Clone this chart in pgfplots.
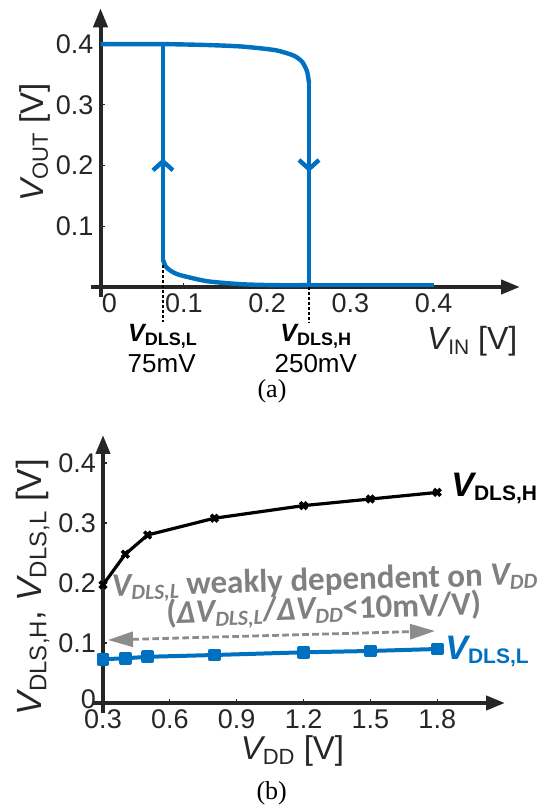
\documentclass[border=0pt]{standalone}
\usepackage{fontspec}
\setmainfont{Liberation Sans}
\newfontfamily\calfont{Carlito}
\newfontfamily\seriffont{Liberation Serif}
\usepackage{pgfplots}
\pgfplotsset{compat=1.18}
\usetikzlibrary{arrows.meta,decorations.markings}

\definecolor{vblue}{RGB}{0,112,192}
\definecolor{vgray}{RGB}{128,128,128}
\definecolor{agray}{RGB}{140,140,140}
\definecolor{axc}{RGB}{38,38,38}

\newcommand{\fs}[1]{\fontsize{#1}{#1}\selectfont}
% italic V with upright subscript
\newcommand{\Vr}[3]{{\fs{#1}\itshape V}\raisebox{-2.4pt}{\fs{#2}#3}}
% bold italic V with bold subscript
\newcommand{\Vb}[3]{{\fs{#1}\bfseries\itshape V}\raisebox{-1.8pt}{\fs{#2}\bfseries #3}}
% gray annotation V (italic subscript)
\newcommand{\Vg}[1]{{\itshape V\raisebox{-2pt}{\fs{10.8}#1}}}

\pgfplotsset{
  vaxis/.style={
    axis lines=left, scale only axis, clip=false,
    axis line style={line width=2pt, axc, -{Triangle[length=9.5pt,width=7pt]}, shorten <=-5pt},
    tick align=inside, major tick length=2pt,
    tick style={axc, line width=0.6pt},
    tick label style={font=\fs{13.5}, text=axc},
    /pgf/number format/assume math mode=true,
  },
  flow/.style={vblue, line width=2.2pt, line join=round, line cap=round,
    postaction={decorate},
    decoration={markings, mark=at position #1 with {\arrow{Straight Barb[length=4.5pt,width=10pt]}}}},
}

\begin{document}
\begin{tikzpicture}
\useasboundingbox (0,0) rectangle (271pt,404pt);

% ---------------- (a) transfer curve ----------------
\begin{axis}[vaxis,
  at={(50.25pt,260.5pt)}, anchor=south west,
  width=209.75pt, height=139.35pt,
  xmin=0, xmax=0.5036, ymin=0, ymax=0.459,
  xtick={0.1,0.2,0.3,0.4}, ytick={0.1,0.2,0.3,0.4},
  extra x ticks={0}, extra x tick style={xticklabel style={xshift=4.5pt}},
]
% forward sweep, high output
\addplot[vblue, line width=2.2pt, line join=round, smooth, tension=0.4] coordinates {
  (0,0.4) (0.075,0.4) (0.128,0.3985) (0.17,0.396) (0.21,0.390)
  (0.232,0.381) (0.242,0.371) (0.248,0.355) (0.2503,0.336)};
\addplot[flow=0.44] coordinates {(0.2503,0.336) (0.2503,0.003)};
% low output
\addplot[vblue, line width=2.2pt, line join=round, smooth, tension=0.4] coordinates {
  (0.075,0.045) (0.0784,0.0335) (0.085,0.026) (0.095,0.0198) (0.128,0.0095)
  (0.17,0.0045) (0.21,0.003) (0.25,0.003)};
\addplot[vblue, line width=2.2pt] coordinates {(0.25,0.003) (0.4,0.003)};
\addplot[flow=0.47] coordinates {(0.075,0.045) (0.075,0.4)};
% thresholds
\addplot[black, line width=1.3pt, dash pattern=on 1.5pt off 1pt] coordinates {(0.075,0.036) (0.075,-0.058)};
\addplot[black, line width=1.3pt, dash pattern=on 1.5pt off 1pt] coordinates {(0.2503,0) (0.2503,-0.058)};
\end{axis}

\node[anchor=base] at (81.25pt,233.2pt) {\Vb{12.5}{9}{DLS,L}};
\node[anchor=base, font=\fs{13}] at (80.85pt,217.5pt) {75mV};
\node[anchor=base] at (157.9pt,233.2pt) {\Vb{12.5}{9}{DLS,H}};
\node[anchor=base, font=\fs{13}] at (157.9pt,217.5pt) {250mV};
\node[anchor=base west, inner sep=0pt, text=axc] at (213.3pt,229pt) {\Vr{16}{10.5}{IN}\fs{16}\ [V]};
\node[anchor=base, rotate=90, text=axc] at (21.5pt,332.7pt) {\Vr{16.5}{11}{OUT}\fs{16.5}\ [V]};
\node[anchor=base, font=\seriffont\fs{13}] at (136pt,205pt) {(a)};

% ---------------- (b) thresholds vs VDD ----------------
\begin{axis}[vaxis,
  at={(51.5pt,52.5pt)}, anchor=south west,
  width=201pt, height=134pt,
  xmin=0.3, xmax=2.104, ymin=0, ymax=0.4467,
  xtick={0.3,0.6,0.9,1.2,1.5,1.8}, ytick={0.1,0.2,0.3,0.4},
  extra y ticks={0}, extra y tick style={yticklabel style={yshift=2pt}},
]
\addplot[black, line width=1.6pt, mark=x, mark size=2.4pt, mark options={line width=1.8pt}] coordinates {
  (0.3,0.197) (0.4,0.248) (0.5,0.280) (0.8,0.308) (1.2,0.329) (1.5,0.340) (1.8,0.351)};
\addplot[vblue, line width=2pt, mark=square*, mark size=2.2pt, mark options={line join=round}] coordinates {
  (0.3,0.073) (0.4,0.0745) (0.5,0.077) (0.8,0.080) (1.2,0.0845) (1.5,0.0867) (1.8,0.090)};
\end{axis}

\node[anchor=base west, inner sep=0pt] at (225.5pt,155.65pt) {\Vb{17}{10.5}{DLS,H}};
\node[anchor=base west, inner sep=0pt, text=vblue] at (222.5pt,74pt) {\Vb{17}{10.5}{DLS,L}};
\node[anchor=base, rotate=90, text=axc] at (20.8pt,110.5pt)
  {\Vr{17.5}{12}{DLS,H}\fs{17.5}, \Vr{17.5}{12}{DLS,L}\fs{17.5}\ [V]};
\node[anchor=base, text=axc] at (146.25pt,24pt) {\Vr{16.5}{11}{DD}\fs{16.5}\ [V]};
\node[anchor=base, font=\seriffont\fs{13}] at (135.85pt,4.5pt) {(b)};

\node[anchor=base west, inner sep=0pt, rotate=1.6, text=vgray, font=\calfont\bfseries\fs{16.5}]
  at (55.85pt,105.8pt) {\Vg{DLS,L} weakly dependent on \Vg{DD}};
\node[anchor=base, inner sep=0pt, rotate=1.6, text=vgray, font=\calfont\bfseries\fs{16.5}]
  at (162pt,94.5pt) {({\itshape Δ}\Vg{DLS,L}/{\itshape Δ}\Vg{DD}<10mV/V)};
\draw[agray, line width=1.4pt, dash pattern=on 3.3pt off 1.7pt,
  {Triangle[length=12.5pt,width=7.5pt]}-{Triangle[length=12.5pt,width=7.5pt]}]
  (54pt,84pt) -- (217.5pt,88.5pt);
\end{tikzpicture}
\end{document}
